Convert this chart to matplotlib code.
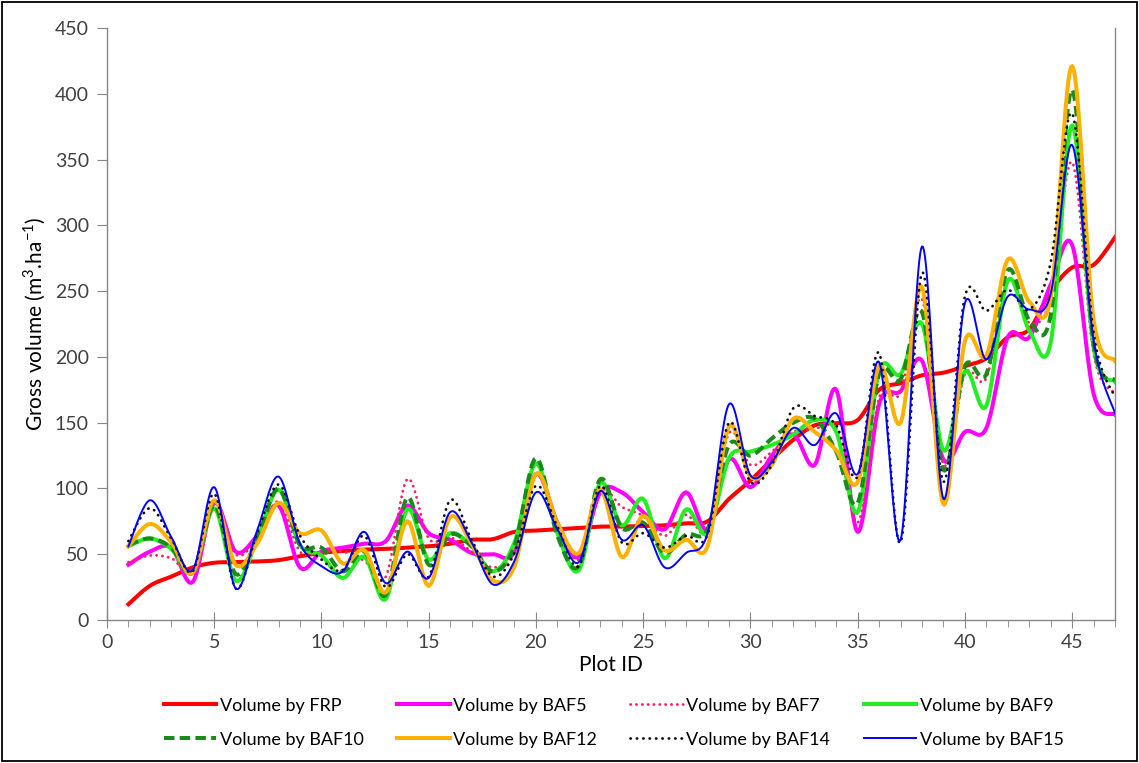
import numpy as np
import matplotlib.pyplot as plt
from matplotlib.ticker import MultipleLocator
from matplotlib.patches import Rectangle

plt.rcParams['font.family'] = ['Lato', 'DejaVu Sans']
plt.rcParams['mathtext.fontset'] = 'custom'
plt.rcParams['mathtext.rm'] = 'Lato'

plot_id = np.arange(1, 48)

vol_frp = [12, 26, 33, 40, 43.5, 44, 44.5, 45.5, 48.5, 51, 52.5, 53.5, 54, 55, 56, 58,
           61, 61.5, 67, 68, 69, 70, 71, 71, 71.5, 72, 73.5, 75, 92, 106, 122, 137,
           148, 149.6, 152, 175, 180, 186, 188, 193, 199, 215, 221, 250, 268, 270, 291]
vol_baf5 = [42, 52, 55, 29, 89, 52, 64, 87, 40, 52, 55, 58, 60, 87, 66, 61,
            51, 50, 52, 111, 74, 48, 97, 97, 82, 69, 97, 69, 122, 101, 125, 141,
            118, 175, 67, 164, 174, 197, 122, 143, 146, 215, 215, 255, 285, 172, 156]
vol_baf7 = [44, 49, 47, 38, 90, 50, 62, 90, 52, 52, 52, 45, 33, 107, 62, 63,
            52, 40, 52, 110, 74, 46, 98, 86, 79, 64, 80, 68, 142, 118, 128, 143,
            145, 146, 74, 169, 173, 244, 118, 187, 184, 258, 226, 245, 348, 202, 172]
vol_baf9 = [56, 62, 54, 36, 85, 30, 61, 99, 57, 49, 32, 48, 16, 84, 46, 66,
            56, 37, 59, 119, 66, 38, 104, 72, 92, 47, 84, 66, 123, 128, 133, 141,
            152, 143, 82, 189, 187, 225, 129, 189, 163, 258, 220, 211, 376, 207, 181]
vol_baf10 = [57, 62, 55, 36, 87, 35, 62, 100, 57, 55, 37, 52, 19, 93, 42, 65,
             56, 37, 56, 123, 64, 41, 107, 70, 74, 51, 65, 69, 133, 125, 138, 150,
             153, 128, 89, 187, 183, 234, 114, 193, 187, 266, 228, 232, 403, 210, 182]
vol_baf12 = [56, 73, 59, 36, 91, 42, 58, 89, 66, 68, 43, 53, 21, 75, 26, 78,
             58, 30, 41, 111, 74, 51, 99, 48, 79, 53, 61, 56, 147, 109, 118, 153,
             143, 129, 105, 193, 150, 253, 88, 212, 201, 274, 242, 245, 421, 228, 197]
vol_baf14 = [60, 85, 62, 37, 96, 24, 66, 103, 64, 46, 38, 64, 25, 50, 33, 91,
             61, 33, 51, 102, 71, 41, 102, 59, 66, 55, 64, 65, 150, 105, 118, 161,
             155, 148, 109, 203, 59, 264, 105, 246, 235, 251, 236, 272, 385, 218, 169]
vol_baf15 = [56, 91, 63, 38, 101, 24, 68, 109, 58, 41, 37, 67, 28, 52, 32, 82,
             59, 27, 45, 97, 69, 44, 98, 61, 72, 40, 51, 66, 164, 110, 120, 146,
             133, 157, 111, 196, 61, 284, 92, 241, 198, 246, 236, 248, 361, 212, 157]


def smooth(x, y, n=24):
    # Bezier smoothing through every point, like a spreadsheet's smoothed line
    p = np.column_stack([x, y]).astype(float)
    pp = np.vstack([p[0], p, p[-1]])
    t = np.linspace(0, 1, n)[:, None]
    out = []
    for i in range(len(p) - 1):
        p0, p1, p2, p3 = pp[i], pp[i + 1], pp[i + 2], pp[i + 3]
        c1 = p1 + (p2 - p0) / 6
        c2 = p2 - (p3 - p1) / 6
        seg = (1 - t) ** 3 * p1 + 3 * (1 - t) ** 2 * t * c1 + 3 * (1 - t) * t ** 2 * c2 + t ** 3 * p2
        out.append(seg if i == 0 else seg[1:])
    s = np.vstack(out)
    return s[:, 0], s[:, 1]


series = [
    ('Volume by FRP', vol_frp, dict(color='#FF0000', lw=2.9, ls='-')),
    ('Volume by BAF5', vol_baf5, dict(color='#FF00FF', lw=2.9, ls='-')),
    ('Volume by BAF7', vol_baf7, dict(color='#FF2060', lw=2.0, ls=(0, (0.1, 2.0)), dash_capstyle='round')),
    ('Volume by BAF9', vol_baf9, dict(color='#22EE22', lw=2.9, ls='-')),
    ('Volume by BAF10', vol_baf10, dict(color='#1A8A1A', lw=2.9, ls=(0, (2.6, 1.3)))),
    ('Volume by BAF12', vol_baf12, dict(color='#FFB000', lw=2.9, ls='-')),
    ('Volume by BAF14', vol_baf14, dict(color='#111111', lw=2.0, ls=(0, (0.1, 2.2)), dash_capstyle='round')),
    ('Volume by BAF15', vol_baf15, dict(color='#0000FF', lw=1.4, ls='-')),
]

fig = plt.figure(figsize=(11.39, 7.63), dpi=100)
ax = fig.add_axes([0.0939, 0.1874, 0.8851, 0.7759])

lines = []
for label, vals, style in series:
    xs, ys = smooth(plot_id, vals)
    ln, = ax.plot(xs, ys, label=label, **style)
    lines.append(ln)

ax.set_xlim(0, 47)
ax.set_ylim(0, 450)
ax.xaxis.set_major_locator(MultipleLocator(5))
ax.xaxis.set_minor_locator(MultipleLocator(1))
ax.yaxis.set_major_locator(MultipleLocator(50))

grey = '#868686'
for side in ['left', 'bottom', 'right']:
    ax.spines[side].set_color(grey)
    ax.spines[side].set_linewidth(1.0)
ax.spines['top'].set_visible(False)

ax.tick_params(axis='y', which='major', direction='out', length=7, color=grey,
               labelsize=14, labelcolor='#404040', pad=6)
ax.tick_params(axis='x', which='major', direction='inout', length=12, color=grey,
               labelsize=14, labelcolor='#404040', pad=4)
ax.tick_params(axis='x', which='minor', direction='out', length=5, color=grey)

ax.set_ylabel('Gross volume (m$^{3}$.ha$^{-1}$)', fontsize=15, labelpad=5)
ax.set_xlabel('Plot ID', fontsize=15, labelpad=3)

# legend fills column by column, so interleave to get two rows of four
order = [0, 4, 1, 5, 2, 6, 3, 7]
fig.legend([lines[i] for i in order], [series[i][0] for i in order],
           loc='center', bbox_to_anchor=(0.539, 0.053), ncol=4, frameon=False,
           fontsize=13, handlelength=2.9, handletextpad=0.2, columnspacing=1.85,
           labelspacing=1.0)

fig.patches.append(Rectangle((0.002, 0.003), 0.996, 0.994, transform=fig.transFigure,
                             fill=False, edgecolor='black', lw=1.3))

fig.savefig('out.png', dpi=100)
